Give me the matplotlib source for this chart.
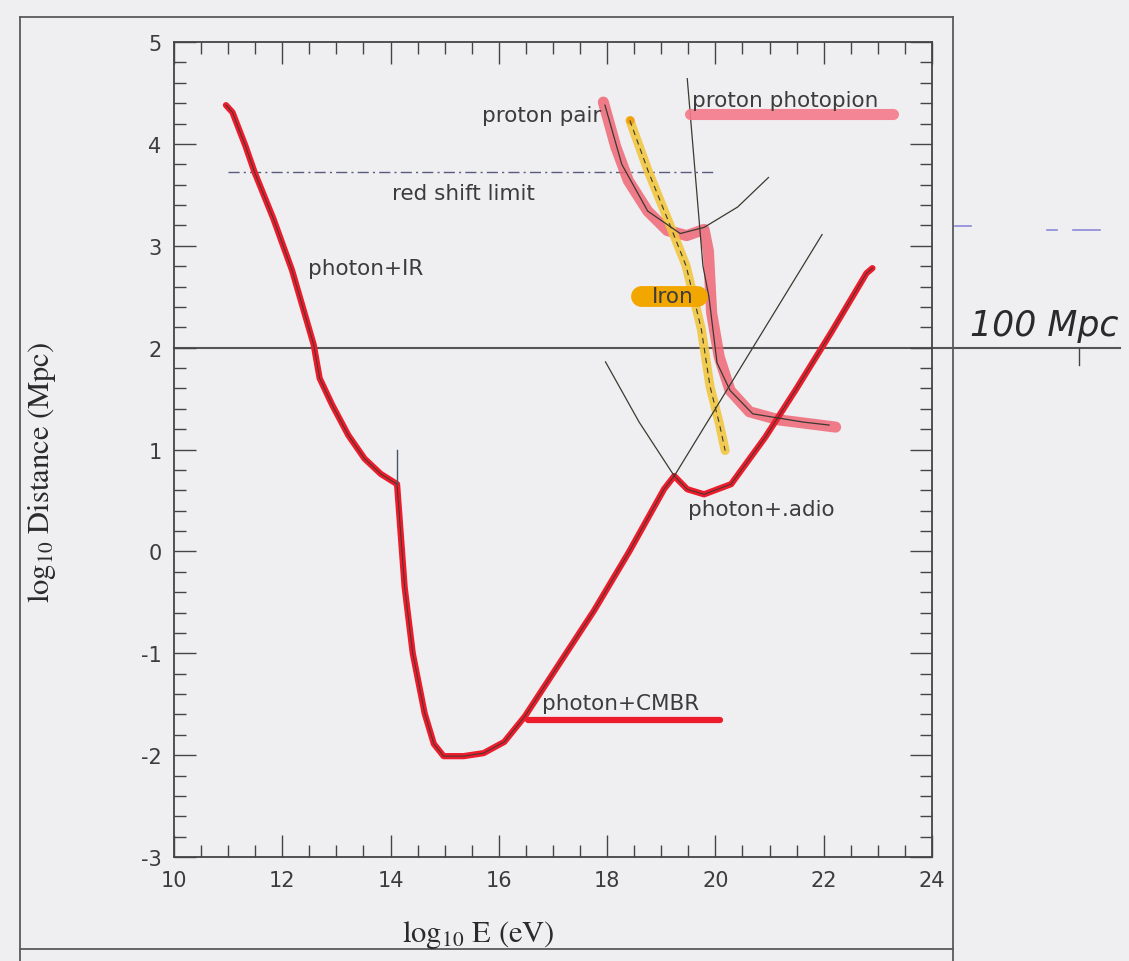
import matplotlib
matplotlib.use("Agg")

import matplotlib.pyplot as plt
from matplotlib.lines import Line2D
from matplotlib.ticker import MultipleLocator

# photon attenuation length (IR, CMBR and radio backgrounds)
photon_x = [10.96, 11.08, 11.32, 11.49, 11.84, 12.18, 12.58, 12.69, 12.92, 13.22, 13.52,
            13.82, 14.12, 14.26, 14.41, 14.63, 14.80, 14.98, 15.35, 15.72, 16.10, 16.48,
            17.12, 17.76, 18.41, 19.05, 19.24, 19.48, 19.79, 20.29, 20.92, 21.50, 22.14,
            22.79, 22.90]
photon_y = [4.38, 4.31, 3.98, 3.72, 3.26, 2.76, 2.03, 1.70, 1.44, 1.14, 0.91,
            0.76, 0.66, -0.35, -1.00, -1.59, -1.89, -2.01, -2.01, -1.98, -1.87, -1.62,
            -1.10, -0.58, 0.00, 0.61, 0.74, 0.61, 0.56, 0.66, 1.12, 1.60, 2.15,
            2.73, 2.78]

# straight CMBR branch continued past the radio kink
cmbr_ext_x = [19.24, 21.97]
cmbr_ext_y = [0.74, 3.11]

# left arm of the radio curve
radio_x = [17.97, 18.59, 19.24]
radio_y = [1.86, 1.27, 0.74]

# proton losses: pair production then photopion
proton_x = [17.93, 18.16, 18.39, 18.75, 19.11, 19.47, 19.79, 19.87, 19.93, 20.07, 20.27,
            20.63, 21.18, 22.22]
proton_y = [4.41, 3.97, 3.64, 3.34, 3.15, 3.10, 3.16, 2.95, 2.34, 1.91, 1.58,
            1.37, 1.29, 1.22]

pair_x = [17.96, 18.27, 18.75, 19.35, 19.79, 20.41, 20.98]
pair_y = [4.38, 3.80, 3.34, 3.12, 3.18, 3.38, 3.67]

pion_x = [19.48, 19.77, 19.88, 20.03, 20.27, 20.69, 21.61, 22.10]
pion_y = [4.64, 2.80, 2.50, 1.85, 1.58, 1.35, 1.27, 1.24]

# iron nuclei
iron_x = [18.42, 18.76, 19.11, 19.46, 19.74, 19.90, 20.07, 20.18]
iron_y = [4.23, 3.73, 3.27, 2.80, 2.18, 1.62, 1.26, 0.99]

redshift_limit = 3.72
ref_distance = 2.0  # log10(100 Mpc)

x_ticks = [10, 12, 14, 16, 18, 20, 22, 24]
y_ticks = [-3, -2, -1, 0, 1, 2, 3, 4, 5]

bg = "#efeff1"
ink = "#3c3c3c"
thin = "#3a3a30"

plt.rcParams["mathtext.fontset"] = "stix"
plt.rcParams["axes.unicode_minus"] = False

fig = plt.figure(figsize=(11.29, 9.62), dpi=100, facecolor=bg)
ax = fig.add_axes([0.1541, 0.1081, 0.6714, 0.8472])
ax.set_facecolor(bg)
ax.set_xlim(10, 24)
ax.set_ylim(-3, 5)

ax.set_xticks(x_ticks)
ax.set_yticks(y_ticks)
ax.xaxis.set_minor_locator(MultipleLocator(0.5))
ax.yaxis.set_minor_locator(MultipleLocator(0.2))
ax.tick_params(which="both", direction="in", top=True, right=True, color="#444444", width=1.0)
ax.tick_params(which="major", length=16, pad=9, labelsize=15, labelcolor=ink)
ax.tick_params(which="minor", length=8.5)
for s in ax.spines.values():
    s.set_color("#444444")
    s.set_linewidth(1.3)

# highlighter strokes
ax.plot(proton_x, proton_y, color="#f06676", lw=8, alpha=0.85, solid_capstyle="round",
        solid_joinstyle="round", zorder=2)
ax.plot(iron_x, iron_y, color="#f2c640", lw=6.5, alpha=0.9, solid_capstyle="round",
        solid_joinstyle="round", zorder=2)
ax.plot(iron_x[:1], iron_y[:1], "o", color="#f0a010", ms=5, zorder=2)
ax.plot(photon_x, photon_y, color="#ec1c2c", lw=4.5, solid_capstyle="round",
        solid_joinstyle="round", zorder=3)

# printed curves
ax.plot(photon_x, photon_y, color=thin, lw=0.7, zorder=4)
ax.plot(cmbr_ext_x, cmbr_ext_y, color=thin, lw=0.9, zorder=4)
ax.plot(radio_x, radio_y, color=thin, lw=0.9, zorder=4)
ax.plot(pair_x, pair_y, color=thin, lw=0.9, zorder=4)
ax.plot(pion_x, pion_y, color=thin, lw=0.9, zorder=4)
ax.plot(iron_x, iron_y, color=thin, lw=0.8, ls=(0, (5, 4)), zorder=4)
ax.plot([14.12, 14.12], [0.66, 1.0], color="#445566", lw=1.0, zorder=4)

# red shift limit
ax.plot([11.0, 20.0], [redshift_limit, redshift_limit], color="#5a5a80", lw=1.0,
        ls=(0, (8, 3, 1.5, 3)), zorder=1)

# 100 Mpc reference line, drawn past the frame
ax.plot([10, 27.47], [ref_distance, ref_distance], color="#555555", lw=1.5,
        clip_on=False, zorder=1)
ax.plot([26.72, 26.72], [ref_distance, 1.83], color="#444444", lw=1.0, clip_on=False)
ax.text(24.7, 2.06, "100 Mpc", fontsize=25, style="italic", color="#2a2a2a",
        ha="left", va="bottom", clip_on=False)
ax.plot([24.42, 24.72], [3.19, 3.19], color="#8a8ad8", lw=1.2, clip_on=False)
ax.plot([26.13, 26.30], [3.15, 3.15], color="#8a8ad8", lw=1.2, clip_on=False)
ax.plot([26.60, 27.10], [3.15, 3.15], color="#8a8ad8", lw=1.2, clip_on=False)

# labels and their highlights
lab = dict(fontsize=15.5, color=ink, zorder=6)
ax.plot([19.53, 23.28], [4.29, 4.29], color="#f57a8a", lw=8, alpha=0.9,
        solid_capstyle="round", zorder=5)
ax.text(19.57, 4.43, "proton photopion", ha="left", va="center", **lab)
ax.text(17.9, 4.28, "proton pair", ha="right", va="center", **lab)
ax.text(15.35, 3.52, "red shift limit", ha="center", va="center", **lab)
ax.text(13.54, 2.78, "photon+IR", ha="center", va="center", **lab)
ax.plot([18.62, 19.66], [2.51, 2.51], color="#f2a600", lw=15, solid_capstyle="round", zorder=5)
ax.text(19.21, 2.51, "Iron", ha="center", va="center", **lab)
ax.text(19.50, 0.42, "photon+.adio", ha="left", va="center", **lab)
ax.plot([16.54, 20.09], [-1.66, -1.66], color="#ec1c2c", lw=4.5, solid_capstyle="round", zorder=5)
ax.text(16.80, -1.49, "photon+CMBR", ha="left", va="center", **lab)

fig.text(478 / 1129, 1 - 935 / 962, r"log$_{10}$ E (eV)", fontsize=22, family="STIXGeneral",
         color="#2a2a2a", ha="center", va="center")
fig.text(42 / 1129, 1 - 472 / 962, r"log$_{10}$ Distance (Mpc)", fontsize=22,
         family="STIXGeneral", color="#2a2a2a", rotation=90, ha="center", va="center")

# page border around the plot
W, H = 1129, 962
for (x0, y0), (x1, y1) in [((20, 18), (953, 18)), ((20, 18), (20, 962)),
                           ((953, 18), (953, 962)), ((20, 950), (953, 950))]:
    fig.add_artist(Line2D([x0 / W, x1 / W], [1 - y0 / H, 1 - y1 / H],
                          transform=fig.transFigure, color="#5a5a5a", lw=1.3))

fig.savefig("out.png", dpi=100, facecolor=bg)
